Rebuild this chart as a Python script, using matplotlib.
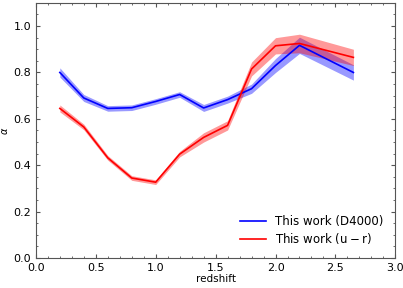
import numpy as np
import matplotlib
matplotlib.use("Agg")
import matplotlib.pyplot as plt
from matplotlib.ticker import MultipleLocator

# redshift bins
z = [0.2, 0.4, 0.6, 0.8, 1.0, 1.2, 1.4, 1.6, 1.8, 2.0, 2.2, 2.65]

# alpha from D4000 selection
alpha_d4000 = [0.80, 0.69, 0.645, 0.648, 0.675, 0.705, 0.647, 0.683, 0.73, 0.83, 0.917, 0.80]
err_d4000 = [0.02, 0.015, 0.012, 0.012, 0.012, 0.012, 0.015, 0.015, 0.02, 0.03, 0.035, 0.033]

# alpha from u-r selection
alpha_ur = [0.645, 0.565, 0.432, 0.345, 0.327, 0.448, 0.52, 0.572, 0.815, 0.915, 0.925, 0.865]
err_ur = [0.015, 0.012, 0.01, 0.01, 0.01, 0.012, 0.02, 0.02, 0.03, 0.035, 0.04, 0.035]

plt.rcParams['font.family'] = ['DejaVu Sans']
plt.rcParams['mathtext.fontset'] = 'dejavusans'

fig = plt.figure(figsize=(4.03, 2.88), dpi=100)
ax = fig.add_axes([0.089, 0.104, 0.892, 0.886])

z = np.array(z)
a1, e1 = np.array(alpha_d4000), np.array(err_d4000)
a2, e2 = np.array(alpha_ur), np.array(err_ur)

ax.fill_between(z, a1 - e1, a1 + e1, color="blue", alpha=0.4, lw=0)
ax.plot(z, a1, color="blue", lw=1.2, label="This work (D4000)")
ax.fill_between(z, a2 - e2, a2 + e2, color="red", alpha=0.4, lw=0)
ax.plot(z, a2, color="red", lw=1.2, label=r"This work ($\mathrm{u}-\mathrm{r}$)")

ax.set_xlim(0, 3.0)
ax.set_ylim(0, 1.1)
ax.xaxis.set_major_locator(MultipleLocator(0.5))
ax.xaxis.set_minor_locator(MultipleLocator(0.1))
ax.yaxis.set_major_locator(MultipleLocator(0.2))
ax.yaxis.set_minor_locator(MultipleLocator(0.05))
ax.tick_params(which="both", direction="in", top=True, right=True, labelsize=8,
               color="#555555")
ax.tick_params(which="major", length=3)
ax.tick_params(which="minor", length=1.5)
for s in ax.spines.values():
    s.set_color("#555555")

ax.set_xlabel("redshift", fontsize=7.5, labelpad=1)
ax.set_ylabel(r"$\alpha$", fontsize=7, labelpad=2)
ax.legend(loc="lower right", frameon=False, fontsize=8.5, handlelength=2.2,
          borderaxespad=0.6, labelspacing=0.3)

fig.savefig("out.png", dpi=100)
